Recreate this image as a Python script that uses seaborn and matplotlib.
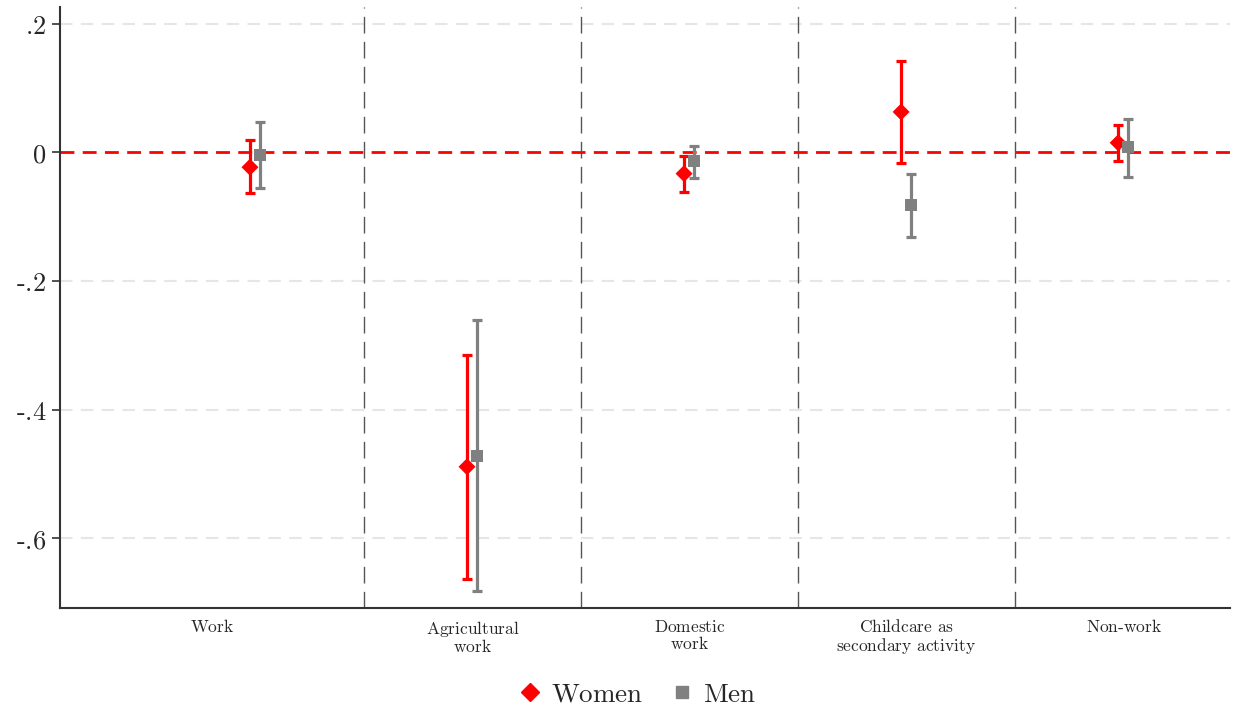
import numpy as np
import pandas as pd
import seaborn as sns
import matplotlib.pyplot as plt

# Activities (x categories) and estimates with 95% CIs
activities = ['Work', 'Agricultural\nwork', 'Domestic\nwork', 'Childcare as\nsecondary activity', 'Non-work']
women_est = [-0.023, -0.489, -0.033, 0.063, 0.015]
women_lo = [-0.063, -0.664, -0.061, -0.016, -0.013]
women_hi = [0.019, -0.315, -0.005, 0.142, 0.043]
men_est = [-0.004, -0.472, -0.013, -0.082, 0.008]
men_lo = [-0.055, -0.682, -0.040, -0.132, -0.039]
men_hi = [0.047, -0.261, 0.010, -0.033, 0.052]
ytick_vals = [0.2, 0, -0.2, -0.4, -0.6]
ytick_labels = ['.2', '0', '-.2', '-.4', '-.6']


def cm(s):
    # render each line in Computer Modern via mathtext
    return '\n'.join(r'$\text{' + line + '}$' for line in s.split('\n'))


sns.set_style('white')
plt.rcParams['mathtext.fontset'] = 'cm'
plt.rcParams['font.family'] = ['DejaVu Serif']

n = len(activities)
idx = np.arange(n)
df = pd.DataFrame({
    'x': np.concatenate([idx - 0.025, idx + 0.02]),
    'est': women_est + men_est,
    'lo': women_lo + men_lo,
    'hi': women_hi + men_hi,
    'group': ['Women'] * n + ['Men'] * n,
})

colors = {'Women': '#ff0000', 'Men': '#808080'}
markers = {'Women': 'D', 'Men': 's'}

fig = plt.figure(figsize=(12.38, 7.13), dpi=100)
ax = fig.add_axes([0.0485, 0.147, 0.945, 0.843])

# light grid and reference lines
for v in [0.2, -0.2, -0.4, -0.6]:
    ax.axhline(v, color='#e6e6e6', lw=1.5, ls=(0, (6, 4)), zorder=0)
for s in np.arange(0.5, n - 0.5, 1):
    ax.axvline(s, color='#555555', lw=1.0, ls=(0, (12, 6)), zorder=1)
ax.axhline(0, color='#ff0000', lw=2.0, ls=(0, (5, 3)), zorder=1)

# confidence intervals
for g in ['Women', 'Men']:
    d = df[df['group'] == g]
    ax.errorbar(d['x'], d['est'], yerr=[d['est'] - d['lo'], d['hi'] - d['est']],
                fmt='none', ecolor=colors[g], elinewidth=2.3, capsize=3.8,
                capthick=2.3, zorder=3)

sns.scatterplot(data=df, x='x', y='est', hue='group', style='group',
                palette=colors, markers=markers, s=75, linewidth=0,
                ax=ax, zorder=4, legend=False)

ax.set_xlim(-0.9, 4.49)
ax.set_ylim(-0.709, 0.226)
ax.set_yticks(ytick_vals)
ax.set_yticklabels([cm(t) for t in ytick_labels], fontsize=19)
label_pos = [(-0.9 + 0.5) / 2, 1, 2, 3, 4]
ax.set_xticks(label_pos)
ax.set_xticklabels([cm(a) for a in activities], fontsize=12.5, linespacing=0.95,
                   va='top')
ax.tick_params(axis='x', length=0, pad=8)
ax.tick_params(axis='y', length=6, width=1.2, color='#333333', left=True, pad=4)
ax.set_xlabel('')
ax.set_ylabel('')
for side in ['top', 'right']:
    ax.spines[side].set_visible(False)
for side in ['left', 'bottom']:
    ax.spines[side].set_color('#333333')
    ax.spines[side].set_linewidth(1.5)

handles = [
    plt.Line2D([], [], marker='D', color=colors['Women'], ls='none', markersize=9),
    plt.Line2D([], [], marker='s', color=colors['Men'], ls='none', markersize=8),
]
fig.legend(handles, [cm('Women'), cm('Men')], loc='center', bbox_to_anchor=(0.513, 0.026),
           ncol=2, frameon=False, fontsize=19.5, handletextpad=0.2, columnspacing=0.8,
           handlelength=1.2)

fig.savefig('out.png', dpi=100)
